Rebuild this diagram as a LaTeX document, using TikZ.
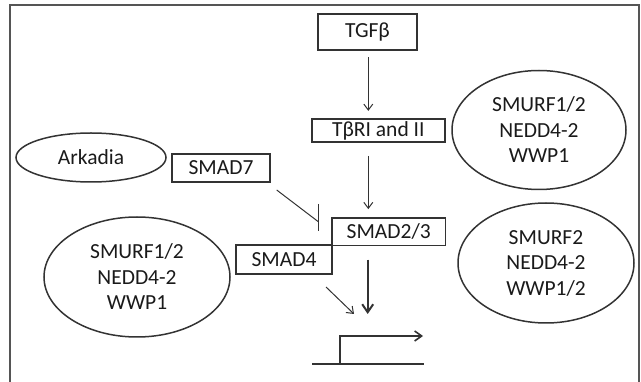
\documentclass[tikz,border=0pt]{standalone}
\usepackage{fontspec}
\setmainfont{Carlito}
\usetikzlibrary{shapes.geometric,arrows.meta}
\definecolor{ink}{HTML}{333333}
\definecolor{framegray}{HTML}{555555}
\definecolor{txt}{HTML}{1A1A1A}
\begin{document}
\begin{tikzpicture}[x=1pt,y=-1pt,
  font=\fontsize{21.5}{25.5}\selectfont,
  box/.style={draw=ink,line width=1.6pt,inner sep=0pt,text=txt},
  oval/.style={ellipse,draw=ink,line width=1.5pt,inner sep=0pt,align=center,text=txt},
  arr/.style={draw=ink,line width=1pt,-{Straight Barb[length=6pt,width=9pt]}},
  bigarr/.style={draw=ink,line width=2pt,-{Straight Barb[length=8pt,width=11pt]}},
  inh/.style={draw=ink,line width=1pt},
  dna/.style={draw=ink,line width=1.6pt}]
\useasboundingbox (0,0) rectangle (641,382);

% outer frame (open at the bottom)
\draw[framegray,line width=2pt] (9.5,382) -- (9.5,5) -- (639,5) -- (639,382);

% boxes
\node[box,minimum width=99pt,minimum height=36pt] (tgf) at (367.5,32) {TGFβ};
\node[box,minimum width=133pt,minimum height=23pt] (tbr) at (378.3,130.5) {TβRI and II};
\node[box,minimum width=98pt,minimum height=28.5pt] (s7) at (221,168) {SMAD7};
\node[box,minimum width=113.5pt,minimum height=27.5pt] (s23) at (388.7,231.7) {SMAD2/3};
\node[box,minimum width=95.5pt,minimum height=29pt] (s4) at (284,259.5) {SMAD4};

% E3 ligase ovals
\node[oval,minimum width=150pt,minimum height=49pt] (ark) at (91,157.5) {Arkadia};
\node[oval,minimum width=186pt,minimum height=120pt] (eL) at (137,277) {SMURF1/2\\NEDD4-2\\WWP1};
\node[oval,minimum width=174pt,minimum height=119pt] (eTR) at (539,130) {SMURF1/2\\NEDD4-2\\WWP1};
\node[oval,minimum width=176pt,minimum height=120pt] (eBR) at (546,263) {SMURF2\\NEDD4-2\\WWP1/2};

% signalling axis
\coordinate (ax) at (368.3,0);
\coordinate (bx) at (367.7,0);
\draw[arr,shorten <=6.7pt,shorten >=7.3pt] (ax |- tgf.south) -- (ax |- tbr.north);
\draw[arr,shorten <=13pt,shorten >=8pt] (ax |- tbr.south) -- (ax |- s23.north);

% promoter with transcription start
\coordinate (dnaL) at (312,364);
\coordinate (dnaR) at (424,364);
\coordinate (tss) at (340,364);
\coordinate (tssTop) at (340,336);
\coordinate (tssEnd) at (423,336);
\draw[dna] (dnaL) -- (dnaR);
\draw[dna,-{Straight Barb[length=7pt,width=10pt]}] (tss) -- (tssTop) -- (tssEnd);

\draw[bigarr,shorten <=13.5pt,shorten >=22pt] (bx |- s23.south) -- (bx |- tssTop);

% SMAD4 contribution
\coordinate (dA) at (326,287);
\coordinate (dB) at (354,314);
\draw[arr] (dA) -- (dB);

% SMAD7 inhibition
\coordinate (iA) at (276.7,190);
\coordinate (iB) at (318.3,221.7);
\coordinate (barTop) at (318.3,204);
\coordinate (barBot) at (318.3,231);
\draw[inh] (iA) -- (iB);
\draw[inh] (barTop) -- (barBot);
\end{tikzpicture}
\end{document}
